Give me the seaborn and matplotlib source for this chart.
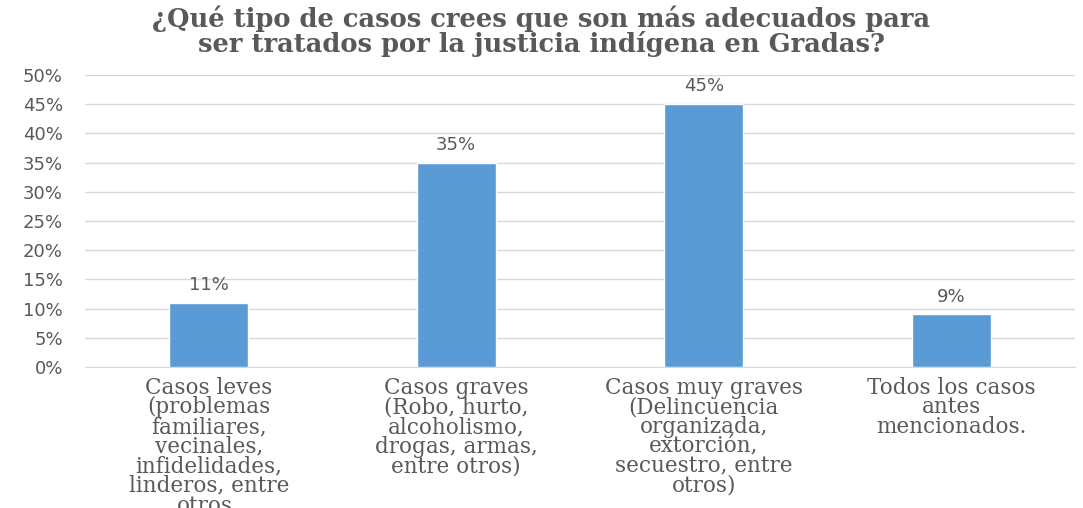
import matplotlib
matplotlib.use("Agg")
import matplotlib.pyplot as plt
import seaborn as sns
import pandas as pd

categories = [
    "Casos leves\n(problemas\nfamiliares,\nvecinales,\ninfidelidades,\nlinderos, entre\notros.",
    "Casos graves\n(Robo, hurto,\nalcoholismo,\ndrogas, armas,\nentre otros)",
    "Casos muy graves\n(Delincuencia\norganizada,\nextorción,\nsecuestro, entre\notros)",
    "Todos los casos\nantes\nmencionados.",
]
values = [11, 35, 45, 9]
yticks = [0, 5, 10, 15, 20, 25, 30, 35, 40, 45, 50]
title = "¿Qué tipo de casos crees que son más adecuados para\nser tratados por la justicia indígena en Gradas?"

df = pd.DataFrame({"cat": categories, "val": values})

sns.set_style("white")
plt.rcParams["font.family"] = ["DejaVu Sans"]
gray = "#595959"

fig = plt.figure(figsize=(10.83, 5.08), dpi=100)
ax = fig.add_axes([0.0785, 0.2776, 0.914, 0.5748])

sns.barplot(data=df, x="cat", y="val", color="#5B9BD5", saturation=1, width=0.32, ax=ax, zorder=3)

ax.set_ylim(0, 50)
ax.set_yticks(yticks)
ax.set_yticklabels([f"{t}%" for t in yticks], color=gray, fontsize=13)
ax.set_xlim(-0.5, 3.5)
ax.grid(axis="y", color="#D9D9D9", linewidth=1, zorder=0)
for s in ["top", "right", "left"]:
    ax.spines[s].set_visible(False)
ax.spines["bottom"].set_color("#D9D9D9")
ax.tick_params(axis="both", length=0)
ax.tick_params(axis="y", pad=16)

ax.set_xticks(range(len(categories)))
ax.set_xticklabels(categories, family="DejaVu Serif", fontsize=15.5, color=gray,
                   linespacing=0.86, ha="center", va="top")
ax.tick_params(axis="x", pad=7)
ax.set_xlabel("")
ax.set_ylabel("")

for i, v in enumerate(values):
    ax.text(i, v + 1.5, f"{v}%", ha="center", va="bottom", fontsize=13, color=gray)

fig.text(0.5, 0.99, title, ha="center", va="top", family="DejaVu Serif",
         fontweight="bold", fontsize=18.5, color=gray, linespacing=0.98)

fig.savefig("out.png", dpi=100)
